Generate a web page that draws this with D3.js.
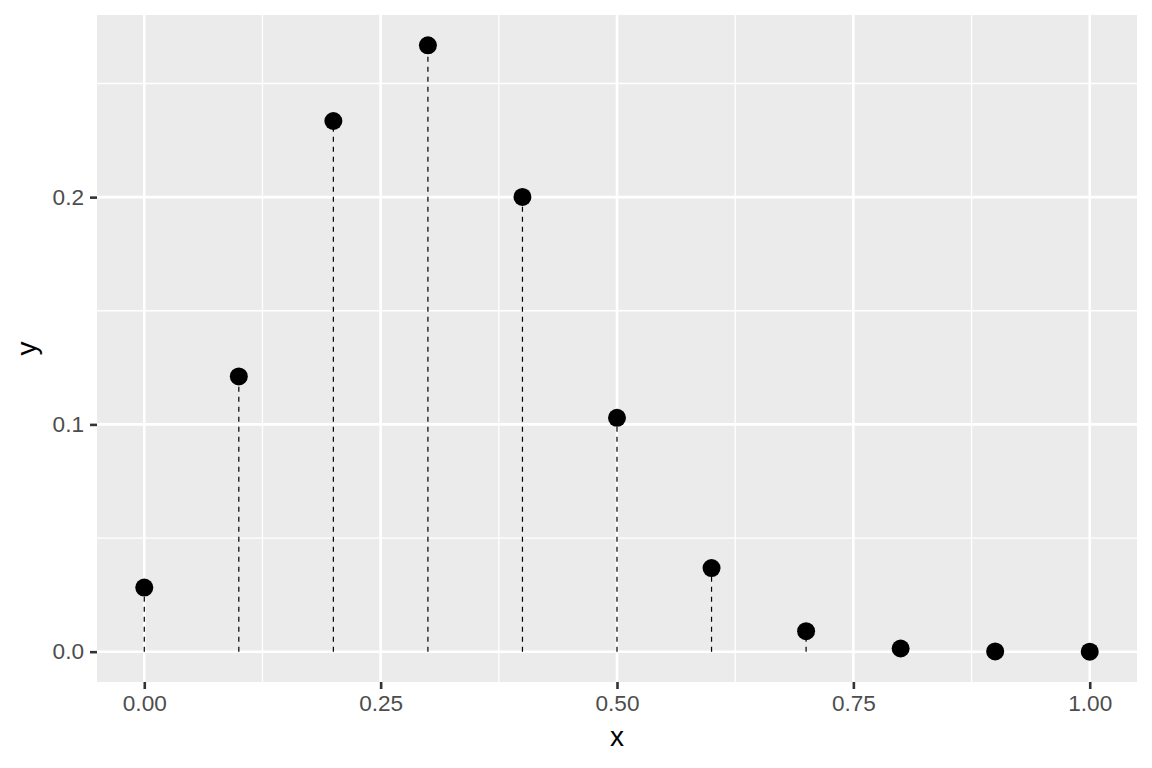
<!DOCTYPE html>
<html><head><meta charset="utf-8">
<script src="https://cdn.jsdelivr.net/npm/d3@7"></script>
<style>body{margin:0;background:#fff;} text{font-family:"Liberation Sans",Arial,sans-serif;}</style>
</head><body>
<svg id="c" width="1152" height="768"></svg>
<script>
const xs = [0.0, 0.1, 0.2, 0.3, 0.4, 0.5, 0.6, 0.7, 0.8, 0.9, 1.0];
const ys = [0.0282, 0.1211, 0.2335, 0.2668, 0.2001, 0.1029, 0.0368, 0.0090, 0.0014, 0.0001, 0.0000];
const xTicks = [0, 0.25, 0.5, 0.75, 1.0];
const xTickLabels = ["0.00", "0.25", "0.50", "0.75", "1.00"];
const xMinor = [0.125, 0.375, 0.625, 0.875];
const yTicks = [0.0, 0.1, 0.2];
const yTickLabels = ["0.0", "0.1", "0.2"];
const yMinor = [0.05, 0.15, 0.25];

const svg = d3.select("#c");
const L = 97, R = 1137, T = 15, B = 682;
const ymax = d3.max(ys), ymin = 0, yr = ymax - ymin;
const x = d3.scaleLinear().domain([-0.05, 1.05]).range([L, R]);
const y = d3.scaleLinear().domain([ymin - 0.05*yr, ymax + 0.05*yr]).range([B, T]);

svg.append("rect").attr("x", L).attr("y", T).attr("width", R-L).attr("height", B-T).attr("fill", "#ebebeb");
const g = svg.append("g");
g.selectAll(".xm").data(xMinor).enter().append("line")
  .attr("x1", d=>x(d)).attr("x2", d=>x(d)).attr("y1", T).attr("y2", B).attr("stroke", "#fff").attr("stroke-width", 1.3);
g.selectAll(".ym").data(yMinor).enter().append("line")
  .attr("y1", d=>y(d)).attr("y2", d=>y(d)).attr("x1", L).attr("x2", R).attr("stroke", "#fff").attr("stroke-width", 1.3);
g.selectAll(".xM").data(xTicks).enter().append("line")
  .attr("x1", d=>x(d)).attr("x2", d=>x(d)).attr("y1", T).attr("y2", B).attr("stroke", "#fff").attr("stroke-width", 2.6);
g.selectAll(".yM").data(yTicks).enter().append("line")
  .attr("y1", d=>y(d)).attr("y2", d=>y(d)).attr("x1", L).attr("x2", R).attr("stroke", "#fff").attr("stroke-width", 2.6);

const pts = xs.map((d,i)=>({x:d, y:ys[i]}));
svg.selectAll(".seg").data(pts).enter().append("line")
  .attr("x1", d=>x(d.x)).attr("x2", d=>x(d.x)).attr("y1", y(0)).attr("y2", d=>y(d.y))
  .attr("stroke", "#000").attr("stroke-width", 1.2).attr("stroke-dasharray", "5,5");
svg.selectAll(".pt").data(pts).enter().append("circle")
  .attr("cx", d=>x(d.x)).attr("cy", d=>y(d.y)).attr("r", 9).attr("fill", "#000");

const xa = svg.append("g").attr("transform", `translate(0,${B})`)
  .call(d3.axisBottom(x).tickValues(xTicks).tickFormat((d,i)=>xTickLabels[i]).tickSize(7).tickPadding(6));
const ya = svg.append("g").attr("transform", `translate(${L},0)`)
  .call(d3.axisLeft(y).tickValues(yTicks).tickFormat((d,i)=>yTickLabels[i]).tickSize(7).tickPadding(6));
[xa, ya].forEach(a=>{
  a.attr("font-size", 22.6).attr("font-family", null);
  a.select(".domain").remove();
  a.selectAll(".tick line").attr("stroke", "#333").attr("stroke-width", 2.6);
  a.selectAll(".tick text").attr("fill", "#4d4d4d").style("font-size", "22.6px");
});

svg.append("text").attr("x", (L+R)/2).attr("y", 746).attr("text-anchor", "middle")
  .style("font-size", "28px").attr("fill", "#000").text("x");
svg.append("text").attr("transform", `translate(36,${(T+B)/2}) rotate(-90)`).attr("text-anchor", "middle")
  .style("font-size", "28px").attr("fill", "#000").text("y");
</script>
</body></html>
